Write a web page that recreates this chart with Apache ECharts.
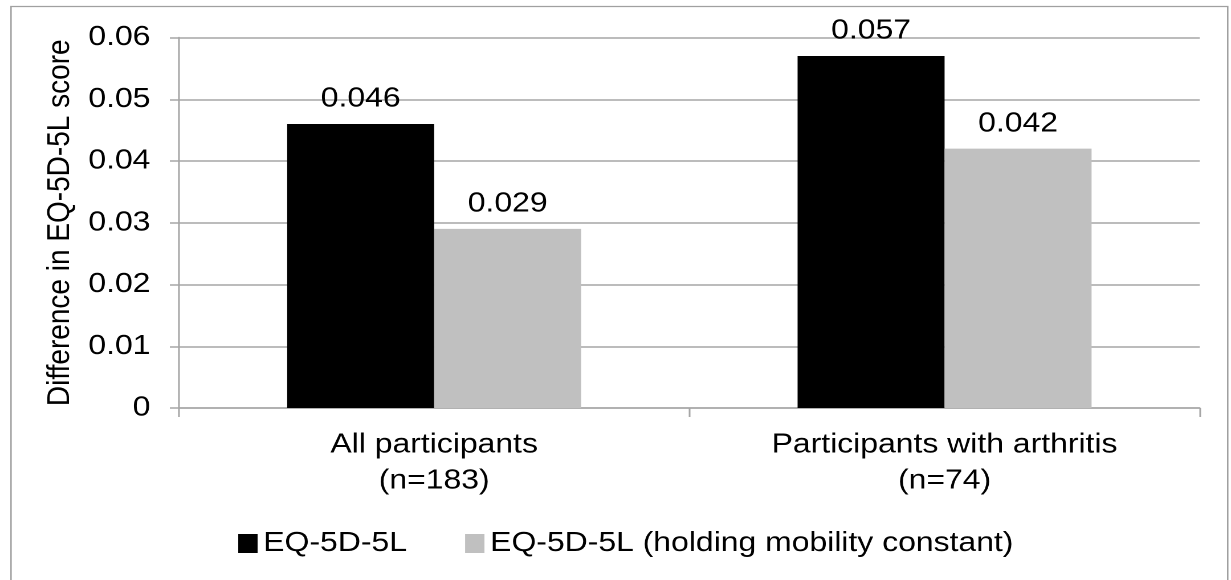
<!DOCTYPE html>
<html><head><meta charset="utf-8">
<script src="https://cdn.jsdelivr.net/npm/echarts@6/dist/echarts.min.js"></script>
<style>
html,body{margin:0;padding:0;background:#fff;overflow:hidden;width:1231px;height:580px}
#c{width:1080px;height:580px;transform:scaleX(1.1398);transform-origin:0 0}
</style>
</head><body><div id="c"></div>
<script>
var categories = ['All participants\n(n=183)', 'Participants with arthritis\n(n=74)'];
var seriesNames = ['EQ-5D-5L', 'EQ-5D-5L (holding mobility constant)'];
var eqValues = [0.046, 0.057];
var holdingValues = [0.029, 0.042];
var yTicks = [0, 0.01, 0.02, 0.03, 0.04, 0.05, 0.06];

var chart = echarts.init(document.getElementById('c'), null, {devicePixelRatio: 2});
var font = 'Liberation Sans, Arial, sans-serif';
var axisGray = '#a6a6a6';
chart.setOption({
  animation: false,
  textStyle: {fontFamily: font},
  graphic: [{type: 'rect', shape: {x: 9.65, y: 6.5, width: 1067.5, height: 600},
    style: {fill: 'none', stroke: '#a0a0a0', lineWidth: 1.3}}],
  grid: {left: 157, right: 27.4, top: 37.5, bottom: 172},
  legend: {
    left: 209, top: 529.5, padding: 0, itemWidth: 17, itemHeight: 19, itemGap: 51,
    icon: 'rect',
    textStyle: {fontSize: 28, color: '#000', fontFamily: font},
    data: seriesNames
  },
  xAxis: {
    type: 'category', data: categories,
    axisLine: {lineStyle: {color: axisGray, width: 1.5}},
    axisTick: {show: true, length: 9, lineStyle: {color: axisGray, width: 1.5}},
    axisLabel: {fontSize: 28, color: '#000', lineHeight: 36, margin: 19, fontFamily: font}
  },
  yAxis: {
    type: 'value', min: yTicks[0], max: yTicks[yTicks.length - 1], interval: 0.01,
    name: 'Difference in EQ-5D-5L score', nameLocation: 'middle', nameGap: 83,
    nameTextStyle: {fontSize: 28, color: '#000', fontFamily: font},
    axisLine: {show: true, lineStyle: {color: axisGray, width: 1.5}},
    axisTick: {show: true, length: 8, lineStyle: {color: axisGray, width: 1.5}},
    splitLine: {lineStyle: {color: axisGray, width: 1.5}},
    axisLabel: {fontSize: 28, color: '#000', margin: 25, fontFamily: font}
  },
  series: [
    {name: seriesNames[0], type: 'bar', data: eqValues, barWidth: '28.8%', barGap: '0%',
     itemStyle: {color: '#000'},
     label: {show: true, position: 'top', distance: 11, fontSize: 28, color: '#000', fontFamily: font,
       formatter: function(p){return p.value.toFixed(3);}}},
    {name: seriesNames[1], type: 'bar', data: holdingValues, barWidth: '28.8%',
     itemStyle: {color: '#c0c0c0'},
     label: {show: true, position: 'top', distance: 11, fontSize: 28, color: '#000', fontFamily: font,
       formatter: function(p){return p.value.toFixed(3);}}}
  ]
});
</script></body></html>
